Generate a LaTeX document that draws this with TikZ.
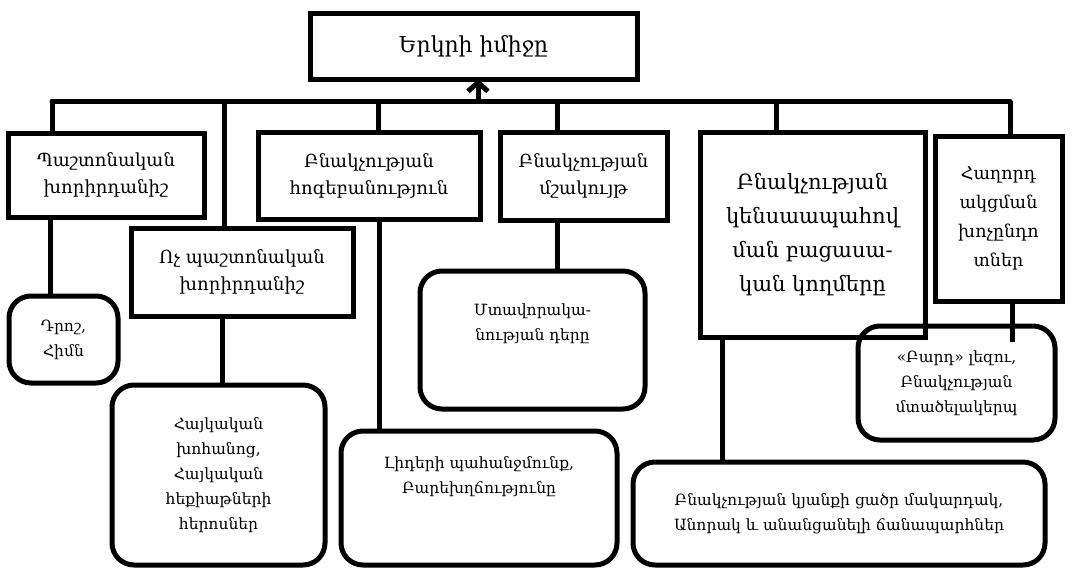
\documentclass[tikz,border=0pt]{standalone}
\usepackage{fontspec}
\setmainfont{DejaVu Serif}
\usepackage{tikz}
\usetikzlibrary{arrows.meta}
\begin{document}
\begin{tikzpicture}[x=1pt,y=-1pt,line width=5pt,
box/.style={draw,inner sep=0pt,outer sep=0pt,align=center,font=\fontsize{18}{27}\selectfont},
rbox/.style={box,rounded corners=22pt,font=\fontsize{15.5}{25}\selectfont}]
\useasboundingbox(0,0)rectangle(1073,570);
\node[box,minimum width=327,minimum height=66,font=\fontsize{22}{26}\selectfont](imij)at(473.5,46){Երկրի իմիջը};
\node[box,minimum width=196,minimum height=84](pashton)at(106,175){Պաշտոնական\\խորիրդանիշ};
\node[box,minimum width=222,minimum height=88](voch)at(242,272){Ոչ պաշտոնական\\խորիրդանիշ};
\node[box,minimum width=222,minimum height=87](hogeban)at(369,175.5){Բնակչության\\հոգեբանություն};
\node[box,minimum width=167,minimum height=88](mshak)at(583.5,176){Բնակչության\\մշակույթ};
\node[box,minimum width=225,minimum height=205,font=\fontsize{21}{34}\selectfont](kensa)at(812.5,234.5){Բնակչության\\կենսաապահով\\ման բացասա-\\կան կողմերը};
\node[box,minimum width=127,minimum height=165,font=\fontsize{17.5}{29}\selectfont](haghord)at(998.5,218.5){Հաղորդ\\ակցման\\խոչընդո\\տներ};
\node[rbox,minimum width=109,minimum height=87](drosh)at(63.5,339.5){Դրոշ,\\Հիմն};
\node[rbox,minimum width=213,minimum height=180](khohanots)at(218.5,475){Հայկական\\խոհանոց,\\Հայկական\\հեքիաթների\\հերոսներ};
\node[rbox,minimum width=225,minimum height=138,text depth=36pt](mtavor)at(532.5,340){Մտավորակա-\\նության դերը};
\node[rbox,minimum width=276,minimum height=134,text depth=46pt](lider)at(479,498){Լիդերի պահանջմունք,\\Բարեխղճությունը};
\node[rbox,minimum width=197,minimum height=114](lezu)at(956.5,383){«Բարդ» լեզու,\\Բնակչության\\մտածելակերպ};
\node[rbox,minimum width=412,minimum height=103](kyank)at(839,513.5){Բնակչության կյանքի ցածր մակարդակ,\\Անորակ և անանցանելի ճանապարհներ};
% bar
\coordinate(k1)at(52,101);\coordinate(k2)at(224,101);\coordinate(k3)at(378,101);
\coordinate(k0)at(478,101);\coordinate(k4)at(557,101);\coordinate(k5)at(776,101);\coordinate(k6)at(1010,101);
\draw[line cap=round](k1)--(k6);
\draw[-{Straight Barb[length=9pt,width=20pt]}](k0)--(imij.south-|k0);
\draw(k1)--(k1|-pashton.north)(k2)--(k2|-voch.north)(k3)--(k3|-hogeban.north)
(k4)--(k4|-mshak.north)(k5)--(k5|-kensa.north)(k6)--(k6|-haghord.north);
% children
\coordinate(c1)at(50,0);\coordinate(c2)at(222,0);\coordinate(c3)at(379,0);
\coordinate(c4)at(557,0);\coordinate(c5)at(722,0);\coordinate(c6)at(1012,0);
\draw(pashton.south-|c1)--(drosh.north-|c1)(voch.south-|c2)--(khohanots.north-|c2)
(hogeban.south-|c3)--(lider.north-|c3)(mshak.south-|c4)--(mtavor.north-|c4)
(kensa.south-|c5)--(kyank.north-|c5)(haghord.south-|c6)--([yshift=-16pt]lezu.north-|c6);
\end{tikzpicture}
\end{document}
